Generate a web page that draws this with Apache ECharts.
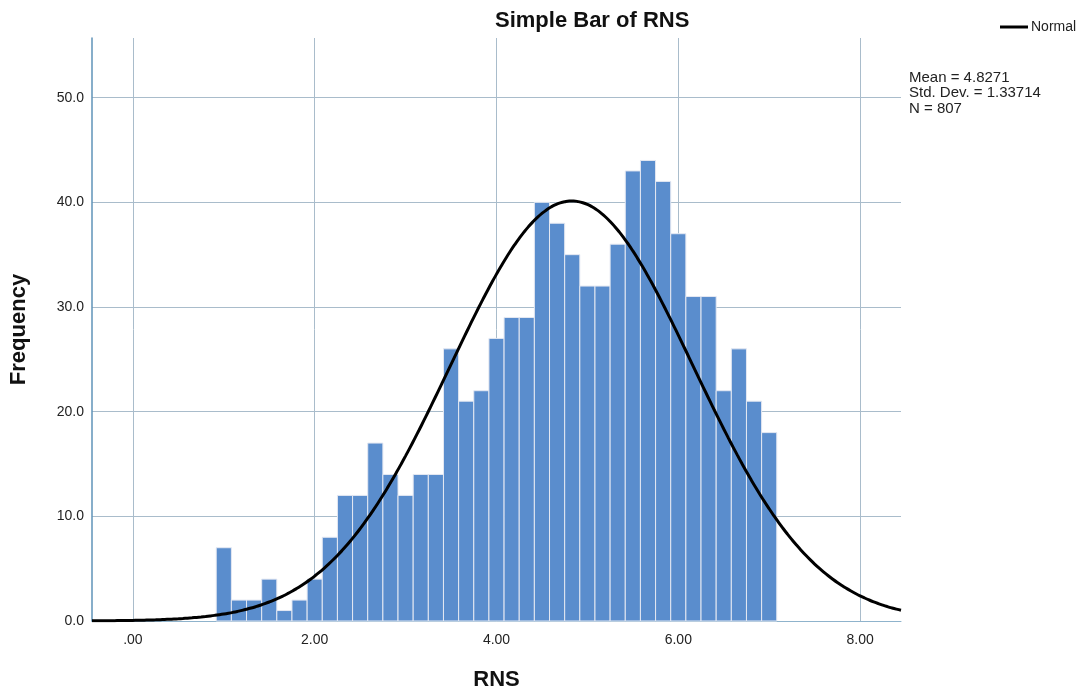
<!DOCTYPE html>
<html>
<head>
<meta charset="utf-8">
<script src="https://cdn.jsdelivr.net/npm/echarts@6/dist/echarts.min.js"></script>
<style>
html,body{margin:0;padding:0;background:#fff;}
#chart{width:1090px;height:696px;}
</style>
</head>
<body>
<div id="chart"></div>
<script>
// ---- data ----
const TITLE = 'Simple Bar of RNS';
const X_NAME = 'RNS';
const Y_NAME = 'Frequency';
const BIN_START = 1;          // centre of the first bar
const BIN_WIDTH = 1 / 6;      // width of each bar in RNS units
const counts = [7, 2, 2, 4, 1, 2, 4, 8, 12, 12, 17, 14, 12, 14, 14, 26, 21, 22, 27, 29, 29,
                40, 38, 35, 32, 32, 36, 43, 44, 42, 37, 31, 31, 22, 26, 21, 18];
const xTicks = [0, 2, 4, 6, 8];
const yTicks = [0, 10, 20, 30, 40, 50];
const MEAN = 4.8271;
const SD = 1.33714;
const N = 807;
const statsLines = ['Mean = 4.8271', 'Std. Dev. = 1.33714', 'N = 807'];
const LEGEND_NAME = 'Normal';

// ---- derived ----
const barData = counts.map((c, i) => [BIN_START + i * BIN_WIDTH, c]);
const X_MIN = -0.45, X_MAX = 8.45;
const curve = [];
for (let k = 0; k <= 178; k++) {
  const x = X_MIN + k * 0.05;
  const z = (x - MEAN) / SD;
  curve.push([x, N * BIN_WIDTH / (SD * Math.sqrt(2 * Math.PI)) * Math.exp(-0.5 * z * z)]);
}

const FONT = 'Liberation Sans, Arial, sans-serif';
const chart = echarts.init(document.getElementById('chart'), null, {renderer: 'canvas'});
chart.setOption({
  animation: false,
  backgroundColor: '#ffffff',
  title: {
    text: TITLE, left: 490, top: 5,
    textStyle: {fontFamily: FONT, fontSize: 22, fontWeight: 'bold', color: '#111'}
  },
  legend: {
    data: [{name: LEGEND_NAME, icon: 'rect'}],
    left: 995, top: 15,
    itemWidth: 28, itemHeight: 3, itemGap: 4,
    textStyle: {fontFamily: FONT, fontSize: 14, color: '#222', padding: [0, 0, 0, -2]}
  },
  grid: {left: 90, right: 189, top: 38, bottom: 73, containLabel: false},
  xAxis: {
    type: 'value', min: X_MIN, max: X_MAX,
    name: X_NAME, nameLocation: 'middle', nameGap: 48,
    nameTextStyle: {fontFamily: FONT, fontSize: 22, fontWeight: 'bold', color: '#111'},
    axisLine: {show: true, onZero: false, lineStyle: {color: '#8fb3cc', width: 1}},
    axisTick: {show: false, customValues: xTicks},
    axisLabel: {
      customValues: xTicks, margin: 12,
      fontFamily: FONT, fontSize: 14, color: '#222',
      formatter: v => { const s = v.toFixed(2); return s.startsWith('0') ? s.slice(1) : s; }
    },
    splitLine: {show: true, lineStyle: {color: '#a9bccb', width: 1}}
  },
  yAxis: {
    type: 'value', min: 0, max: 55.7,
    name: Y_NAME, nameLocation: 'middle', nameGap: 62, nameRotate: 90,
    nameTextStyle: {fontFamily: FONT, fontSize: 22, fontWeight: 'bold', color: '#111'},
    axisLine: {show: true, onZero: false, lineStyle: {color: '#5f93b8', width: 1.5}},
    axisTick: {show: false, customValues: yTicks},
    axisLabel: {
      customValues: yTicks, margin: 8,
      fontFamily: FONT, fontSize: 14, color: '#222',
      formatter: v => v.toFixed(1)
    },
    splitLine: {show: true, lineStyle: {color: '#a9bccb', width: 1}}
  },
  graphic: [{
    type: 'text', left: 909, top: 70,
    style: {text: statsLines.join('\n'), fontFamily: FONT, fontSize: 15, lineHeight: 15.5, fill: '#222'}
  }],
  series: [{
    type: 'custom',
    name: 'bars',
    data: barData,
    z: 2,
    renderItem: (params, api) => {
      const x = api.value(0), y = api.value(1);
      const p0 = api.coord([x - BIN_WIDTH / 2, y]);
      const p1 = api.coord([x + BIN_WIDTH / 2, 0]);
      return {
        type: 'rect',
        shape: {x: p0[0], y: p0[1], width: p1[0] - p0[0], height: p1[1] - p0[1]},
        style: {fill: '#5a8dcd', stroke: '#e4e8f2', lineWidth: 1}
      };
    }
  }, {
    type: 'line',
    name: LEGEND_NAME,
    data: curve,
    z: 5,
    smooth: true,
    symbol: 'none',
    lineStyle: {color: '#000', width: 3},
    itemStyle: {color: '#000'}
  }]
});
</script>
</body>
</html>
